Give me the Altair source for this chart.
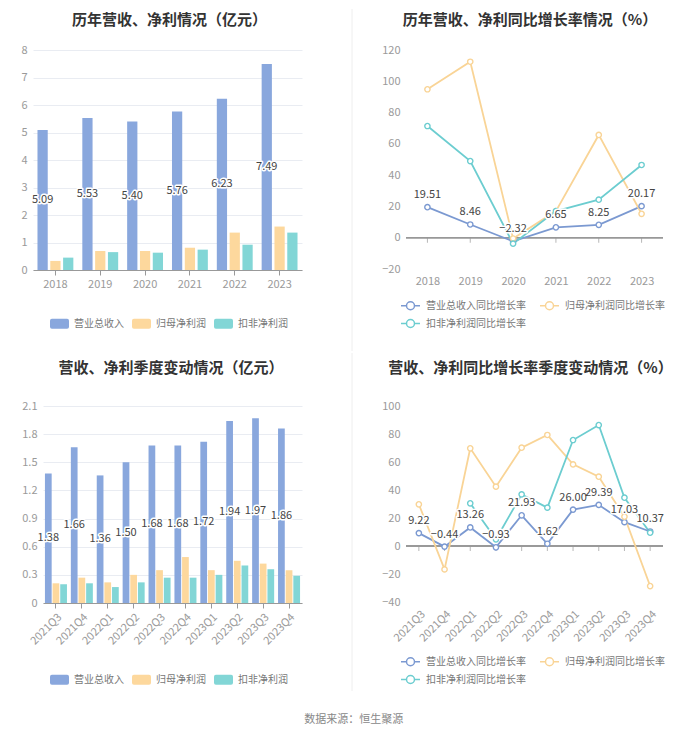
import altair as alt
import pandas as pd

FONT = "Noto Sans CJK SC"

# ---------------- data ----------------
years = ["2018", "2019", "2020", "2021", "2022", "2023"]
rev = [5.09, 5.53, 5.40, 5.76, 6.23, 7.49]
np_parent = [0.33, 0.69, 0.69, 0.81, 1.36, 1.58]
np_deduct = [0.45, 0.65, 0.63, 0.74, 0.92, 1.36]

rev_g = [19.51, 8.46, -2.32, 6.65, 8.25, 20.17]
np_parent_g = [94.9, 112.5, -0.5, 17.0, 65.7, 15.3]
np_deduct_g = [71.4, 49.0, -3.8, 17.0, 24.3, 46.5]

quarters = ["2021Q3", "2021Q4", "2022Q1", "2022Q2", "2022Q3",
            "2022Q4", "2023Q1", "2023Q2", "2023Q3", "2023Q4"]
q_rev = [1.38, 1.66, 1.36, 1.50, 1.68, 1.68, 1.72, 1.94, 1.97, 1.86]
q_np_parent = [0.21, 0.27, 0.22, 0.30, 0.35, 0.49, 0.35, 0.45, 0.42, 0.35]
q_np_deduct = [0.20, 0.21, 0.17, 0.22, 0.27, 0.27, 0.30, 0.40, 0.36, 0.29]

q_rev_g = [9.22, -0.44, 13.26, -0.93, 21.93, 1.62, 26.00, 29.39, 17.03, 10.37]
q_np_parent_g = [29.8, -16.7, 69.8, 42.4, 70.2, 79.3, 58.3, 49.5, 20.9, -28.6]
q_np_deduct_g = [None, None, 30.5, 4.8, 36.9, 27.4, 75.7, 86.4, 34.5, 9.5]

bar_names = ["营业总收入", "归母净利润", "扣非净利润"]
line_names = ["营业总收入同比增长率", "归母净利润同比增长率", "扣非净利润同比增长率"]

titles = ["历年营收、净利情况（亿元）", "历年营收、净利同比增长率情况（%）",
          "营收、净利季度变动情况（亿元）", "营收、净利同比增长率季度变动情况（%）"]
footer = "数据来源：恒生聚源"

ticks_tl = [0, 1, 2, 3, 4, 5, 6, 7, 8]
ticks_tr = [-20, 0, 20, 40, 60, 80, 100, 120]
ticks_bl = [0, 0.3, 0.6, 0.9, 1.2, 1.5, 1.8, 2.1]
ticks_br = [-40, -20, 0, 20, 40, 60, 80, 100]

BAR_COLORS = ["#89a7dd", "#fdd89d", "#82d6d6"]
LINE_COLORS = ["#7b99d1", "#f9d496", "#6ccdd0"]

RECT_PATH = ("M-0.8,-0.53 L0.8,-0.53 Q1,-0.53 1,-0.33 L1,0.33 Q1,0.53 0.8,0.53 "
             "L-0.8,0.53 Q-1,0.53 -1,0.33 L-1,-0.33 Q-1,-0.53 -0.8,-0.53 Z")
LINE_PATH = ("M-1,0 L-0.42,0 M0.42,0 L1,0 M-0.42,0 A0.42,0.42 0 1 0 0.42,0 "
             "A0.42,0.42 0 1 0 -0.42,0 Z")

GRID = "#e9ecf2"
AXIS_C = "#999999"
LABEL_C = "#9a9a9a"
DIVIDER = "#eeeeee"


def long_df(cats, vals_list, names):
    rows = []
    for name, vals in zip(names, vals_list):
        for c, v in zip(cats, vals):
            if v is None:
                continue
            rows.append({"cat": c, "series": name, "value": v})
    return pd.DataFrame(rows)


def title_mark(text, tx, ty):
    return alt.Chart(pd.DataFrame({"t": [text]})).mark_text(
        font=FONT, fontSize=15, fontWeight="bold", color="#333333",
        align="center", baseline="middle").encode(
        text="t:N", x=alt.value(tx), y=alt.value(ty))


def bar_panel(cats, vals_list, title, w, h, ticks, fmt, rotate, pin, opin,
              leg_x, leg_y, tpos, colpad, inset, div_y):
    df = long_df(cats, vals_list, bar_names)
    base = alt.Chart(df)
    xs = dict(paddingInner=pin, paddingOuter=pin / 2)
    if inset:
        xs["range"] = [inset, w]
    x = alt.X("cat:N", sort=cats, title=None, scale=alt.Scale(**xs),
              axis=alt.Axis(labelAngle=-45 if rotate else 0, domainColor=AXIS_C,
                            tickColor=AXIS_C, tickSize=5, labelPadding=3,
                            grid=False, labelColor=LABEL_C, labelFontSize=11,
                            labelFont=FONT))
    xo = alt.XOffset("series:N", sort=bar_names,
                     scale=alt.Scale(paddingInner=opin, paddingOuter=0))
    yscale = alt.Scale(domain=[ticks[0], ticks[-1]], nice=False)
    ya = dict(values=ticks, format=fmt, domain=False, ticks=False,
              labelPadding=6, gridColor=GRID, labelColor=LABEL_C,
              labelFontSize=11, labelFont=FONT)
    if inset:
        ya["offset"] = -inset
    yaxis = alt.Axis(**ya)
    color = alt.Color("series:N", sort=bar_names,
                      scale=alt.Scale(domain=bar_names, range=BAR_COLORS),
                      legend=alt.Legend(orient="none", legendX=leg_x, legendY=leg_y,
                                        direction="horizontal", title=None,
                                        symbolType=RECT_PATH, symbolSize=361,
                                        symbolStrokeWidth=0, labelFont=FONT,
                                        labelFontSize=10, labelColor="#777777",
                                        labelOffset=5, columnPadding=colpad,
                                        padding=0))
    divider = alt.Chart(pd.DataFrame({"d": [0]})).mark_rule(
        color=DIVIDER, strokeWidth=1).encode(
        x=alt.value(319), y=alt.value(div_y[0]), y2=alt.value(div_y[1]))
    bars = base.mark_bar().encode(
        x=x, xOffset=xo,
        y=alt.Y("value:Q", title=None, scale=yscale, axis=yaxis),
        color=color)
    lab = base.transform_filter(alt.datum.series == bar_names[0]).transform_calculate(
        half="datum.value / 2")
    enc = dict(x=x, xOffset=xo,
               y=alt.Y("half:Q", title=None, scale=yscale, axis=yaxis),
               text=alt.Text("value:Q", format=".2f"))
    halo = lab.mark_text(font=FONT, fontSize=11, stroke="white", strokeWidth=3,
                         strokeJoin="round", color="white").encode(**enc)
    txt = lab.mark_text(font=FONT, fontSize=11, color="#444444").encode(**enc)
    return alt.layer(divider, title_mark(title, *tpos), bars, halo, txt).properties(
        width=w, height=h)


def line_panel(cats, vals_list, title, w, h, ticks, rotate, leg_x, leg_y,
               tpos, colpad, dy):
    df = long_df(cats, vals_list, line_names)
    base = alt.Chart(df)
    x = alt.X("cat:N", sort=cats, title=None,
              scale=alt.Scale(type="point", padding=0.5),
              axis=alt.Axis(labelAngle=-45 if rotate else 0, domain=False,
                            ticks=False, labelPadding=6, grid=False,
                            labelColor=LABEL_C, labelFontSize=11, labelFont=FONT))
    yscale = alt.Scale(domain=[ticks[0], ticks[-1]], nice=False, zero=False)
    yaxis = alt.Axis(values=ticks, format="d", domain=False, ticks=False,
                     labelPadding=6, gridColor=GRID, labelColor=LABEL_C,
                     labelFontSize=11, labelFont=FONT)
    y = alt.Y("value:Q", title=None, scale=yscale, axis=yaxis)
    color = alt.Color("series:N", sort=line_names,
                      scale=alt.Scale(domain=line_names, range=LINE_COLORS),
                      legend=alt.Legend(orient="none", legendX=leg_x, legendY=leg_y,
                                        direction="horizontal", columns=2,
                                        title=None, symbolType=LINE_PATH,
                                        symbolSize=361, symbolStrokeWidth=1.5,
                                        symbolFillColor="white", labelFont=FONT,
                                        labelFontSize=10, labelColor="#777777",
                                        labelOffset=5, columnPadding=colpad,
                                        rowPadding=0, padding=0))
    cat_df = pd.DataFrame({"cat": cats})
    zero = alt.Chart(cat_df).mark_rule(color=AXIS_C, strokeWidth=1).encode(
        y=alt.datum(0, scale=yscale, axis=yaxis))
    tks = alt.Chart(cat_df).mark_tick(orient="vertical", size=5, yOffset=2.5,
                                      thickness=1, color=AXIS_C).encode(
        x=x, y=alt.datum(0, scale=yscale, axis=yaxis))
    lines = base.mark_line(strokeWidth=1.8).encode(x=x, y=y, color=color)
    pts = base.mark_point(shape="circle", size=28, filled=False, fill="white",
                          fillOpacity=1, opacity=1, strokeWidth=1.4).encode(
        x=x, y=y, color=color)
    lab = base.transform_filter(alt.datum.series == line_names[0])
    enc = dict(x=x, y=y, text=alt.Text("value:Q", format=".2f"))
    halo = lab.mark_text(font=FONT, fontSize=11, dy=dy, stroke="white",
                         strokeWidth=3, strokeJoin="round", color="white").encode(**enc)
    txt = lab.mark_text(font=FONT, fontSize=11, dy=dy, color="#444444").encode(**enc)
    return alt.layer(title_mark(title, *tpos), zero, tks, lines, pts, halo,
                     txt).properties(width=w, height=h)


tl = bar_panel(years, [rev, np_parent, np_deduct], titles[0], 269, 220, ticks_tl,
               "d", False, 0.2, 0.2, 17, 264, (136.5, -30), 8, 0, (-41, 301))
tr = line_panel(years, [rev_g, np_parent_g, np_deduct_g], titles[1], 257, 219,
                ticks_tr, False, -6, 245, (124, -30), 11, -12)
bl = bar_panel(quarters, [q_rev, q_np_parent, q_np_deduct], titles[2], 269, 197,
               ticks_bl, ".1~f", True, 0.15, 0.12, 17, 264, (138, -38), 8, 10,
               (-53, 285))
br = line_panel(quarters, [q_rev_g, q_np_parent_g, q_np_deduct_g], titles[3], 257,
                196, ticks_br, True, -6, 245, (124.5, -38), 11, -12)

RES = dict(color="independent", x="independent", y="independent",
           xOffset="independent")

top = alt.hconcat(tl, tr, spacing=28).resolve_scale(**RES)
bottom = alt.hconcat(bl, br, spacing=28).resolve_scale(**RES)

chart = alt.vconcat(top, bottom, spacing=0).resolve_scale(**RES).properties(
    title=alt.TitleParams(footer, orient="bottom", anchor="middle", fontSize=11,
                          fontWeight="normal", color="#888888", font=FONT,
                          offset=22, dx=7),
    padding={"top": 0, "left": 12, "right": 0, "bottom": 0},
    background="white",
).configure_view(stroke=None)

chart.save("out.html", embed_options={"renderer": "svg", "actions": False})
